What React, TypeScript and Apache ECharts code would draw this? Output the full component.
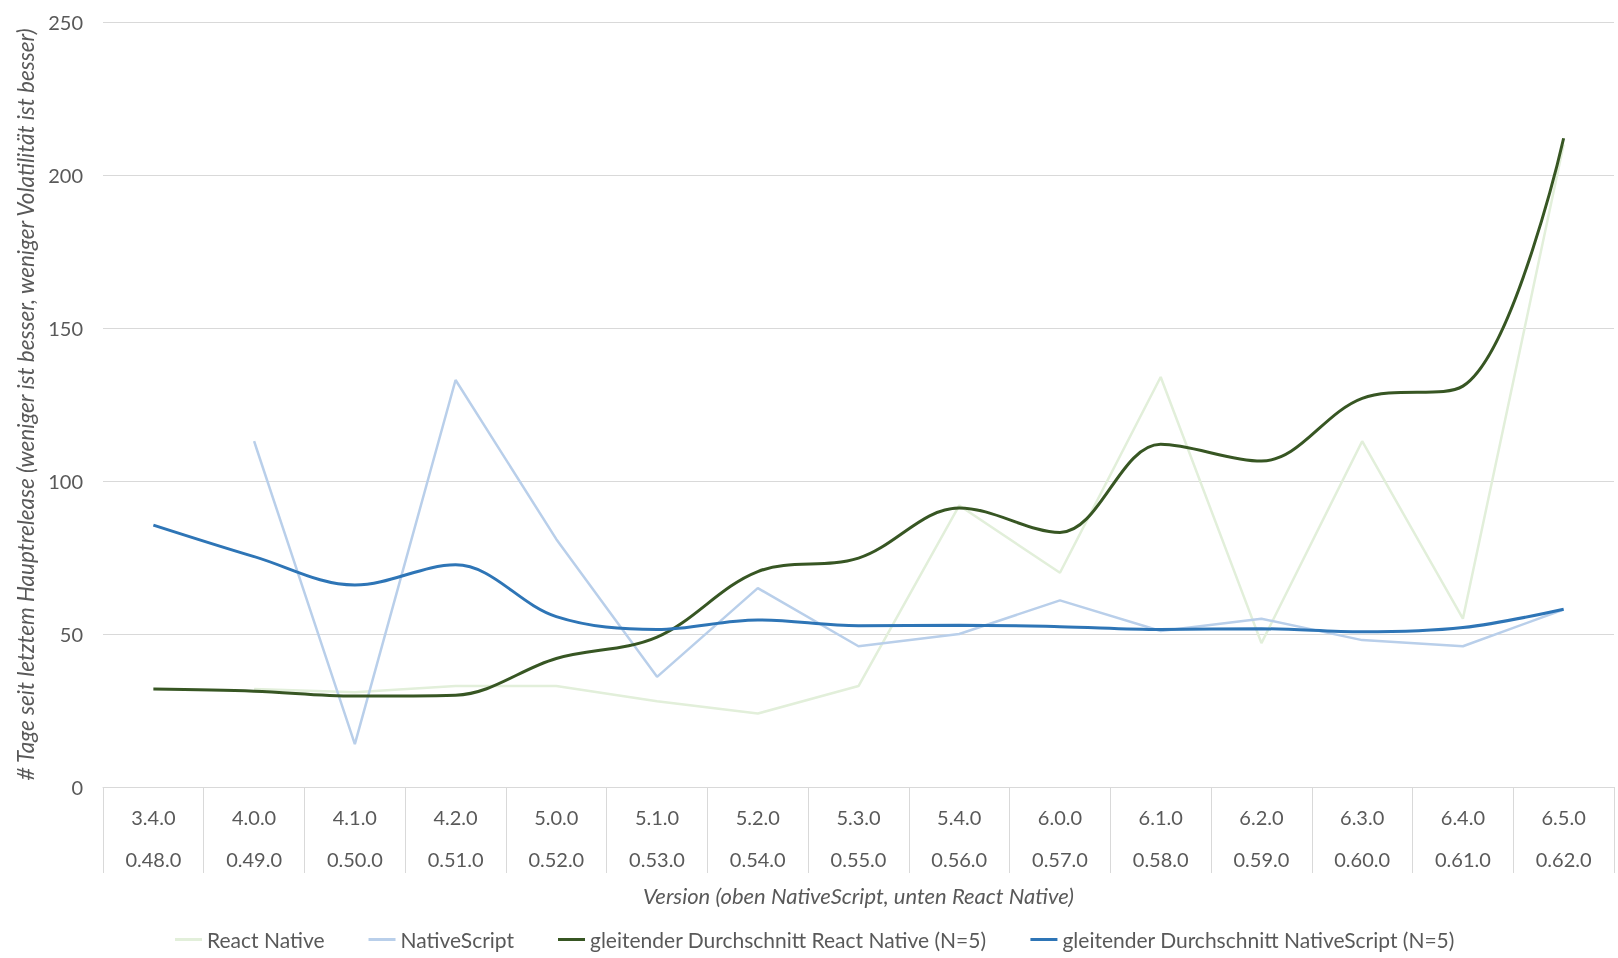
import React, { useEffect, useRef } from "react";
import * as echarts from "echarts";

const nsVersions = ["3.4.0", "4.0.0", "4.1.0", "4.2.0", "5.0.0", "5.1.0", "5.2.0", "5.3.0", "5.4.0", "6.0.0", "6.1.0", "6.2.0", "6.3.0", "6.4.0", "6.5.0"];
const rnVersions = ["0.48.0", "0.49.0", "0.50.0", "0.51.0", "0.52.0", "0.53.0", "0.54.0", "0.55.0", "0.56.0", "0.57.0", "0.58.0", "0.59.0", "0.60.0", "0.61.0", "0.62.0"];

const reactNative = [null, 32, 31, 33, 33, 28, 24, 33, 92, 70, 134, 47, 113, 55, 210];
const nativeScript = [null, 113, 14, 133, 81, 36, 65, 46, 50, 61, 51, 55, 48, 46, 58];
const maReactNative = [32, 31.3, 29.7, 30, 42, 49, 70.4, 74.8, 91.2, 83.2, 112, 106.5, 127, 131, 212];
const maNativeScript = [85.6, 75.3, 66, 72.6, 55.7, 51.5, 54.6, 52.7, 52.9, 52.4, 51.5, 51.7, 50.7, 52.1, 58.1];

const yTicks = { min: 0, max: 250, interval: 50 };

const FONT = "Lato, 'Open Sans', sans-serif";
const TXT = "#595959";
const GRIDC = "#d9d9d9";

export default function App() {
  const ref = useRef<HTMLDivElement>(null);
  useEffect(() => {
    if (!ref.current) return;
    const chart = echarts.init(ref.current, undefined, { renderer: "svg" });
    const categories = nsVersions.map((v, i) => v + "\n" + rnVersions[i]);
    const mk = (name: string, data: (number | null)[], color: string, width: number, smooth: number | boolean) => ({
      name,
      type: "line",
      data,
      smooth,
      symbol: "none",
      showSymbol: false,
      connectNulls: false,
      lineStyle: { color, width },
      itemStyle: { color },
      emphasis: { disabled: true },
    });
    chart.setOption({
      animation: false,
      textStyle: { fontFamily: FONT },
      grid: { left: 103, right: 4, top: 22, bottom: 171, containLabel: false },
      legend: {
        top: 924,
        left: 170,
        icon: "rect",
        itemWidth: 27,
        itemHeight: 3,
        itemGap: 44,
        textStyle: { fontSize: 21, color: TXT, fontFamily: FONT },
        data: [
          "React Native",
          "NativeScript",
          "gleitender Durchschnitt React Native (N=5)",
          "gleitender Durchschnitt NativeScript (N=5)",
        ],
      },
      xAxis: {
        type: "category",
        data: categories,
        boundaryGap: true,
        name: "Version (oben NativeScript, unten React Native)",
        nameLocation: "middle",
        nameGap: 92,
        nameTextStyle: { fontSize: 22, fontStyle: "italic", color: TXT, fontFamily: FONT },
        axisLine: { show: true, lineStyle: { color: GRIDC, width: 1 } },
        axisTick: { show: true, length: 86, interval: 0, lineStyle: { color: GRIDC, width: 1 } },
        axisLabel: { interval: 0, fontSize: 20, color: TXT, lineHeight: 42, margin: 9, fontFamily: FONT },
        splitLine: { show: false },
      },
      yAxis: {
        type: "value",
        min: yTicks.min,
        max: yTicks.max,
        interval: yTicks.interval,
        name: "# Tage seit letztem Hauptrelease (weniger ist besser, weniger Volatilität ist besser)",
        nameLocation: "middle",
        nameGap: 58,
        nameTextStyle: { fontSize: 22.5, fontStyle: "italic", color: TXT, fontFamily: FONT },
        axisLine: { show: false },
        axisTick: { show: false },
        axisLabel: { fontSize: 20, color: TXT, margin: 20, fontFamily: FONT },
        splitLine: { show: true, lineStyle: { color: GRIDC, width: 1 } },
      },
      series: [
        mk("React Native", reactNative, "#e2efda", 2.5, false),
        mk("NativeScript", nativeScript, "#b9cfea", 2.5, false),
        mk("gleitender Durchschnitt React Native (N=5)", maReactNative, "#375623", 3, 0.35),
        mk("gleitender Durchschnitt NativeScript (N=5)", maNativeScript, "#2e75b6", 3, 0.35),
      ],
    });
    return () => chart.dispose();
  }, []);
  return <div ref={ref} style={{ position: "fixed", left: 0, top: 0, width: 1618, height: 958 }} />;
}
